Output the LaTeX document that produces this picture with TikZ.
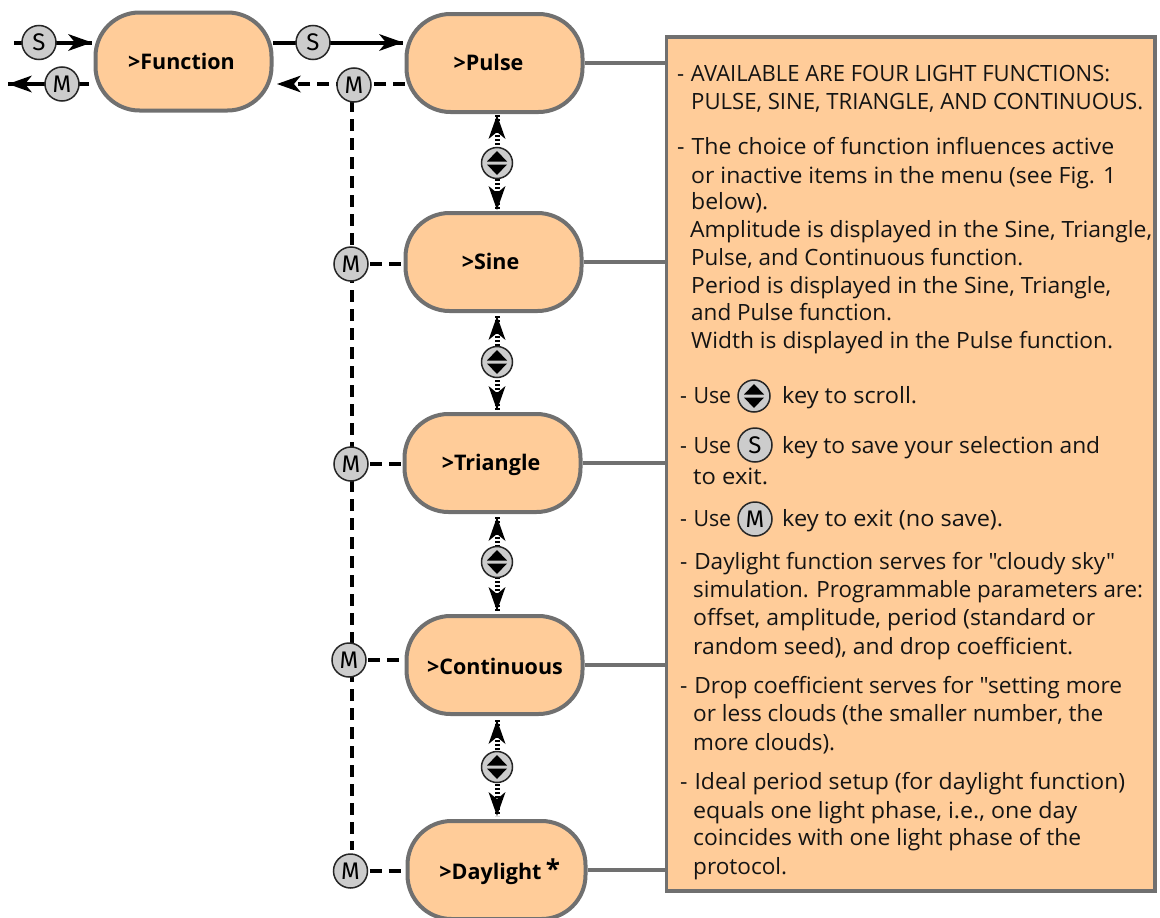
\documentclass[tikz,border=0pt]{standalone}
\usepackage{graphicx}
\usepackage{fontspec}
\setmainfont{Open Sans}
\newfontfamily\bodyfont{Open Sans}
\newfontfamily\keyfont{Fira Sans}
\usetikzlibrary{arrows.meta,calc}
\definecolor{peach}{HTML}{FFCC99}
\definecolor{edgegray}{HTML}{707070}
\definecolor{keygray}{HTML}{CCCCCC}
\newlength{\fitlen}
\tikzset{
  x=1pt,y=-1pt,
  fn/.style={draw=edgegray,line width=4pt,fill=peach,rounded corners=44pt,minimum width=176pt,minimum height=98pt,inner sep=0pt,text height=15pt,text depth=0pt,font=\fontsize{21.5}{24}\selectfont\bfseries},
  keyc/.style={circle,draw=black!85,line width=1.5pt,fill=keygray,minimum size=34pt,inner sep=0pt,font=\keyfont\fontsize{24}{24}\selectfont},
  scrollc/.style={circle,draw=black!85,line width=1.5pt,fill=keygray,minimum size=31pt,inner sep=0pt},
  txt/.style={anchor=base west,inner sep=0pt,font=\bodyfont\fontsize{22.4}{24}\selectfont,text=black!92},
  lead/.style={draw=edgegray,line width=3.2pt},
  solidpl/.style={draw=black,line width=4pt},
  dasharr/.style={draw=black,line width=4.6pt,dash pattern=on 12pt off 7pt},
  dotarr/.style={draw=black,line width=5pt,dash pattern=on 2pt off 2pt},
}
\newcommand{\arrowtip}[3]{%
  \fill[black,shift={(#1,#2)},rotate=#3] (0,0) -- (-24,-8.5) -- (-17,0) -- (-24,8.5) -- cycle;}
\newcommand{\scrollmark}[1]{%
  \fill[black] ($(#1)+(-10,-1.5)$) -- ($(#1)+(0,-12)$) -- ($(#1)+(10,-1.5)$) -- cycle;
  \fill[black] ($(#1)+(-10,1.5)$) -- ($(#1)+(0,12)$) -- ($(#1)+(10,1.5)$) -- cycle;}
\newcommand{\dashgap}[1]{\makebox[#1pt][l]{-}}
\newcommand{\padr}[1]{\rule{#1pt}{0pt}}
\begin{document}
\begin{tikzpicture}
\useasboundingbox (0,0) rectangle (1160,918);
% text panel
\node[draw=edgegray,line width=3.8pt,fill=peach,minimum width=488.5pt,minimum height=854pt,inner sep=0pt] (panel) at (910.7,464) {};
% function nodes
\begin{scope}
\clip (0,0) rectangle (1160,918);
\node[fn] (func) at (183.5,61.5) {>Function\padr{4}};
\node[fn] (pulse) at (494.5,63) {>Pulse\padr{12}};
\node[fn] (sine) at (493.5,262) {>Sine\padr{6}};
\node[fn] (tri) at (492.5,463) {>Triangle\padr{3}};
\node[fn] (cont) at (494.5,665) {\padr{1}\raisebox{-2pt}{>Continuous}};
\node[fn,minimum width=178pt] (day) at (496.5,870) {\raisebox{-1.5pt}{>Daylight}\padr{12}};
\end{scope}
\node[font=\fontsize{26}{26}\selectfont\bfseries,inner sep=0pt,anchor=base] (star) at (553,878) {*};
% leaders
\draw[lead] (pulse.east) -- (panel.west |- pulse.east);
\draw[lead] (sine.east) -- (panel.west |- sine.east);
\draw[lead] (tri.east) -- (panel.west |- tri.east);
\draw[lead] (cont.east) -- (panel.west |- cont.east);
\draw[lead] (day.east) -- (panel.west |- day.east);
% named coordinates
\coordinate (sin) at (14,42.5);
\coordinate (fs) at (92,42.5);
\coordinate (fso) at (273,42.5);
\coordinate (ps) at (403,42.5);
\coordinate (mout) at (8,84);
\coordinate (fm) at (89,84);
\coordinate (pm) at (405,84);
\coordinate (fmi) at (277,84);
\coordinate (sm) at (403,264);
\coordinate (tm) at (403,464);
\coordinate (cm) at (405,660);
\coordinate (dm) at (407,871);
\coordinate (vtop) at (352,100);
\coordinate (vend) at (352,850);
% key positions
\coordinate (p1) at (39,42.5);
\coordinate (p2) at (313,42.5);
\coordinate (p3) at (62,84);
\coordinate (p4) at (354,85);
\coordinate (p5) at (351,264);
\coordinate (p6) at (351,464);
\coordinate (p7) at (349,660);
\coordinate (p8) at (350.5,871);
% connectors
\draw[solidpl] (sin) -- (fs);
\arrowtip{92}{42.5}{0}
\draw[solidpl] (fso) -- (ps);
\arrowtip{403}{42.5}{0}
\draw[solidpl] (fm) -- (mout);
\arrowtip{8}{84}{180}
\draw[dasharr] (pm) -- ($(fmi)+(18,0)$);
\arrowtip{277}{84}{180}
\draw[dasharr] (vtop) -- (vend);
\draw[dasharr] (p5) -- (sm);
\draw[dasharr] (p6) -- (tm);
\draw[dasharr] (p7) -- (cm);
\draw[dasharr] (p8) -- (dm);
% scroll connectors
\foreach \n/\cy/\ya/\yb in {s1/163/115/210,s2/362/316/410,s3/562/517/611,s4/767/720/816}{
  \coordinate (\n a) at (497,\ya);
  \coordinate (\n b) at (497,\yb);
  \draw[dotarr] (\n a) -- (\n b);
  \arrowtip{497}{\ya}{90}
  \arrowtip{497}{\yb}{-90}
  \node[scrollc] (\n) at (497,\cy) {};
  \scrollmark{\n}
  \draw[white!80!black,line width=1pt] ($(\n)+(-13,0)$) -- ($(\n)+(13,0)$);
}
% key circles above the lines
\node[keyc] (k1) at (p1) {S};
\node[keyc] (k2) at (p2) {S};
\node[keyc] (k3) at (p3) {M};
\node[keyc] (k4) at (p4) {M};
\node[keyc] (k5) at (p5) {M};
\node[keyc] (k6) at (p6) {M};
\node[keyc] (k7) at (p7) {M};
\node[keyc] (k8) at (p8) {M};
% panel text: x / baseline / right end / text
\foreach \x/\y/\e/\t in {
 677/80/1110/{\dashgap{14}AVAILABLE ARE FOUR LIGHT FUNCTIONS:},
 691/108/1143/{PULSE, SINE, TRIANGLE, AND CONTINUOUS.},
 677/153/1114/{\dashgap{14}The choice of function influences active},
 691/182/1116/{or inactive items in the menu (see Fig. 1},
 691/208/768/{below).},
 690/236/1152/{Amplitude is displayed in the Sine, Triangle,},
 691/264/1023/{Pulse, and Continuous function.},
 691/292/1111/{Period is displayed in the Sine, Triangle,},
 691/319/892/{and Pulse function.},
 691/347/1113/{Width is displayed in the Pulse function.},
 680/402/731/{\dashgap{14}Use},
 782/402/917/{key to scroll.},
 680/452/731/{\dashgap{14}Use},
 782/452/1100/{key to save your selection and},
 693/483/768/{to exit.},
 680/525/731/{\dashgap{14}Use},
 782/525/1003/{key to exit (no save).},
 680/568/1115/{\dashgap{14}Daylight function serves for "cloudy sky"},
 693/596/1143/{simulation. Programmable parameters are:},
 693/624/1095/{offset, amplitude, period (standard or},
 693/653/1073/{random seed), and drop coefficient.},
 680/692/1122/{\dashgap{14}Drop coefficient serves for "setting more},
 693/720/1103/{or less clouds (the smaller number, the},
 693/749/835/{more clouds).},
 680/788/1125/{\dashgap{14}Ideal period setup (for daylight function)},
 693/817/1077/{equals one light phase, i.e., one day},
 693/844/1081/{coincides with one light phase of the},
 693/873/787/{protocol.}}{
  \pgfmathsetlength{\fitlen}{\e-\x}
  \node[txt,yshift=-1pt] at (\x,\y) {\resizebox{\fitlen}{\height}{\t}};
}
% inline keys
\node[scrollc,minimum size=32pt] (inl1) at (754,396) {};
\scrollmark{inl1}
\node[keyc] (inl2) at (755,445) {S};
\node[keyc] (inl3) at (755,519) {M};
\end{tikzpicture}
\end{document}
